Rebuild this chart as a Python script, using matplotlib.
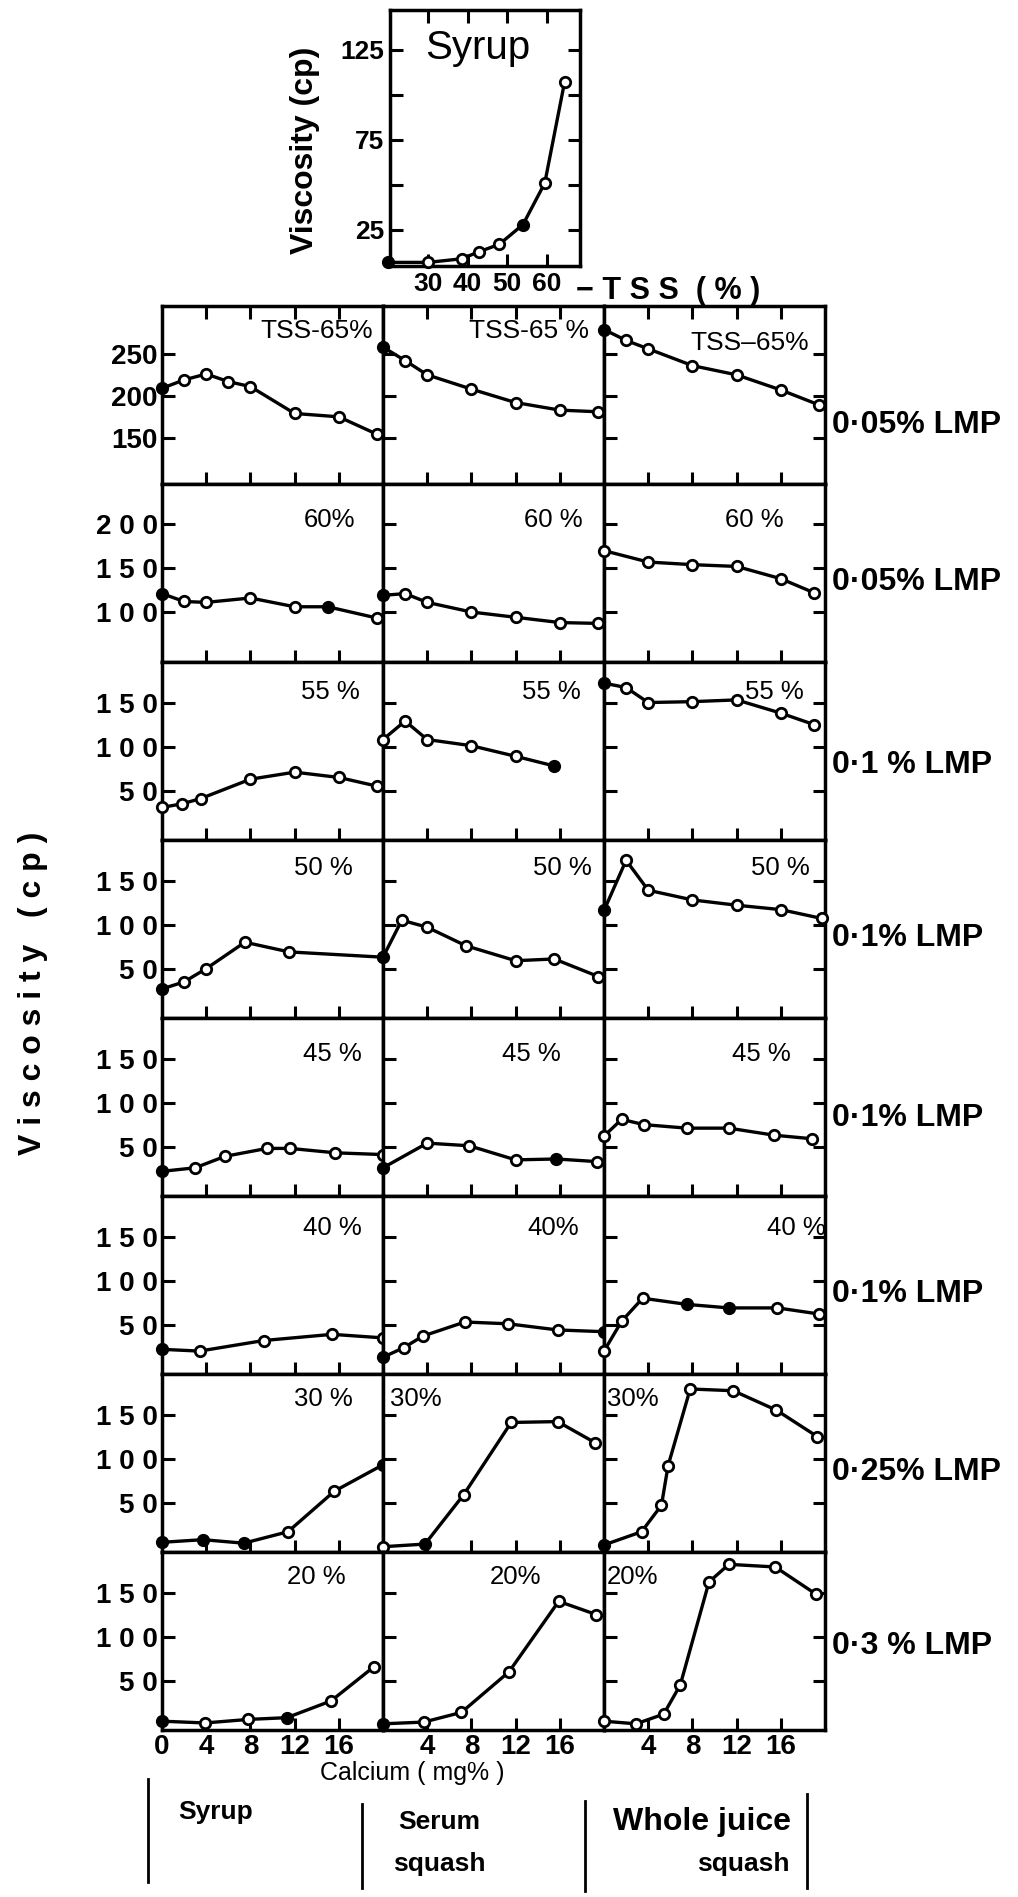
import matplotlib
matplotlib.use('Agg')
import matplotlib.pyplot as plt
from matplotlib.lines import Line2D

plt.rcParams['font.family'] = ['Liberation Sans', 'DejaVu Sans']

# Syrup viscosity against TSS (top inset)
tss = [20, 30, 38.5, 43, 48, 54, 59.5, 64.5]
tss_visc = [7, 7, 9, 13, 17, 28, 51, 107]
tss_filled = [0, 5]

# Calcium (mg%) and viscosity (cp) per product: syrup, serum squash, whole juice squash
ca_65 = [[0, 2, 4, 6, 8, 12, 16, 19.5], [0, 2, 4, 8, 12, 16, 19.5], [0, 2, 4, 8, 12, 16, 19.5]]
cp_65 = [[209, 219, 226, 217, 211, 179, 175, 154], [258, 242, 225, 208, 192, 183, 181],
         [279, 266, 256, 236, 225, 207, 189]]
fill_65 = [[0], [0], [0]]

ca_60 = [[0, 2, 4, 8, 12, 15, 19.5], [0, 2, 4, 8, 12, 16, 19.5], [0, 4, 8, 12, 16, 19]]
cp_60 = [[121, 112, 111, 116, 106, 106, 93], [119, 121, 111, 100, 94, 88, 87],
         [170, 157, 154, 152, 138, 122]]
fill_60 = [[0, 5], [0], []]

ca_55 = [[0, 1.8, 3.5, 8, 12, 16, 19.5], [0, 2, 4, 8, 12, 15.5], [0, 2, 4, 8, 12, 16, 19]]
cp_55 = [[31, 35, 41, 63, 71, 65, 55], [108, 129, 108, 101, 89, 78],
         [172, 167, 150, 151, 153, 138, 125]]
fill_55 = [[], [5], [0]]

ca_50 = [[0, 2, 4, 7.5, 11.5, 20], [0, 1.7, 4, 7.5, 12, 15.5, 19.5], [0, 2, 4, 8, 12, 16, 19.7]]
cp_50 = [[27, 35, 50, 80, 69, 63], [63, 105, 97, 76, 59, 61, 41],
         [116, 173, 139, 128, 122, 117, 107]]
fill_50 = [[0, 5], [0], [0]]

ca_45 = [[0, 3, 5.7, 9.5, 11.6, 15.7, 20], [0, 4, 7.8, 12, 15.7, 19.4], [0, 1.6, 3.6, 7.5, 11.3, 15.4, 18.8]]
cp_45 = [[22, 26, 39, 48, 48, 43, 41], [26, 54, 51, 35, 36, 33],
         [62, 81, 75, 71, 71, 63, 59]]
fill_45 = [[0], [0, 4], []]

ca_40 = [[0, 3.4, 9.2, 15.4, 20], [0, 1.9, 3.6, 7.4, 11.3, 15.8, 20], [0, 1.6, 3.5, 7.5, 11.3, 15.7, 19.5]]
cp_40 = [[22, 20, 32, 39, 35], [13, 24, 37, 53, 51, 44, 42],
         [20, 54, 80, 73, 69, 69, 62]]
fill_40 = [[0], [0, 6], [3, 4]]

ca_30 = [[0, 3.7, 7.4, 11.4, 15.6, 20], [0, 3.8, 7.3, 11.6, 15.8, 19.2],
         [0, 3.4, 5.2, 5.8, 7.8, 11.7, 15.6, 19.3]]
cp_30 = [[5, 8, 4, 17, 63, 93], [0, 3, 59, 141, 142, 118],
         [2, 17, 47, 92, 179, 177, 155, 125]]
fill_30 = [[0, 1, 2, 5], [1], [0]]

ca_20 = [[0, 3.9, 7.8, 11.3, 15.3, 19.2], [0, 3.7, 7.1, 11.4, 15.9, 19.3],
         [0, 2.9, 5.4, 6.9, 9.5, 11.3, 15.5, 19.2]]
cp_20 = [[4, 2, 6, 8, 27, 66], [1, 3, 14, 60, 140, 125],
         [4, 1, 12, 45, 162, 182, 179, 148]]
fill_20 = [[0, 3], [0], []]

tss_tags = [['TSS-65%', 'TSS-65 %', 'TSS\u201365%'], ['60%', '60 %', '60 %'], ['55 %', '55 %', '55 %'],
            ['50 %', '50 %', '50 %'], ['45 %', '45 %', '45 %'], ['40 %', '40%', '40 %'],
            ['30 %', '30%', '30%'], ['20 %', '20%', '20%']]
lmp_labels = ['0\u00b705% LMP', '0\u00b705% LMP', '0\u00b71 % LMP', '0\u00b71% LMP',
              '0\u00b71% LMP', '0\u00b71% LMP', '0\u00b725% LMP', '0\u00b73 % LMP']
products = ['Syrup', 'Serum', 'Whole juice']

rows = [(ca_65, cp_65, fill_65), (ca_60, cp_60, fill_60), (ca_55, cp_55, fill_55),
        (ca_50, cp_50, fill_50), (ca_45, cp_45, fill_45), (ca_40, cp_40, fill_40),
        (ca_30, cp_30, fill_30), (ca_20, cp_20, fill_20)]

# layout (pixels of the 1018x1897 canvas)
W, H = 1018, 1897
GRID_LEFT, GRID_TOP, COL_W, ROW_H = 162, 306, 221, 178
ylims = [(95, 307), (43, 246)] + [(-6, 196)] * 6
yticks = [[150, 200, 250], [100, 150, 200]] + [[50, 100, 150]] * 6
ytick_labels = [['150', '200', '250'], ['1 0 0', '1 5 0', '2 0 0']] + [['5 0', '1 0 0', '1 5 0']] * 6
tag_pos = [[(0.70, 0.86), (0.66, 0.86), (0.66, 0.79)],
           [(0.76, 0.80), (0.77, 0.80), (0.68, 0.80)],
           [(0.76, 0.83), (0.76, 0.83), (0.77, 0.83)],
           [(0.73, 0.84), (0.81, 0.84), (0.80, 0.84)],
           [(0.77, 0.80), (0.67, 0.80), (0.71, 0.80)],
           [(0.77, 0.82), (0.77, 0.82), (0.87, 0.82)],
           [(0.73, 0.86), (0.15, 0.86), (0.13, 0.86)],
           [(0.70, 0.86), (0.60, 0.86), (0.13, 0.86)]]
lmp_y = [0.33, 0.45, 0.42, 0.45, 0.44, 0.45, 0.45, 0.47]

LW = 2.5
fig = plt.figure(figsize=(W / 100, H / 100), dpi=100)


def px_rect(x0, y0, x1, y1):
    return [x0 / W, 1 - y1 / H, (x1 - x0) / W, (y1 - y0) / H]


def draw_series(ax, x, y, filled):
    ax.plot(x, y, '-', color='black', lw=2.4, zorder=3, clip_on=False)
    xo = [v for i, v in enumerate(x) if i not in filled]
    yo = [v for i, v in enumerate(y) if i not in filled]
    xf = [v for i, v in enumerate(x) if i in filled]
    yf = [v for i, v in enumerate(y) if i in filled]
    ax.plot(xo, yo, 'o', ms=7.5, mfc='white', mec='black', mew=2.0, zorder=4, clip_on=False)
    ax.plot(xf, yf, 'o', ms=8.5, mfc='black', mec='black', zorder=4, clip_on=False)


def bold_ticks(ax):
    for lab in ax.get_xticklabels() + ax.get_yticklabels():
        lab.set_fontweight('bold')


# inset: syrup viscosity vs TSS
ax = fig.add_axes(px_rect(390, 10, 580, 266))
draw_series(ax, tss, tss_visc, tss_filled)
ax.set_xlim(20.4, 68.4)
ax.set_ylim(5, 147)
ax.set_xticks([30, 40, 50, 60])
ax.set_yticks([25, 50, 75, 100, 125])
ax.set_yticklabels(['25', '', '75', '', '125'])
ax.tick_params(direction='in', length=9, width=2.2, top=True, right=True, labelsize=19, pad=4)
bold_ticks(ax)
for s in ax.spines.values():
    s.set_linewidth(LW)
ax.text(0.46, 0.85, 'Syrup', transform=ax.transAxes, ha='center', va='center', fontsize=29)
ax.set_ylabel('Viscosity (cp)', fontsize=23, fontweight='bold')
ax.yaxis.set_label_coords(-0.37, 0.45)
fig.text(576 / W, 1 - 291 / H, '\u2212 T S S  ( % )', ha='left', va='center', fontsize=22, fontweight='bold')

# grid of calcium panels
for r, (cas, cps, fills) in enumerate(rows):
    for c in range(3):
        x0 = GRID_LEFT + c * COL_W
        y0 = GRID_TOP + r * ROW_H
        ax = fig.add_axes(px_rect(x0, y0, x0 + COL_W, y0 + ROW_H))
        draw_series(ax, cas[c], cps[c], fills[c])
        ax.set_xlim(0, 20)
        ax.set_ylim(*ylims[r])
        ax.set_yticks(yticks[r])
        if c == 0:
            ax.set_yticklabels(ytick_labels[r])
        else:
            ax.set_yticklabels([])
        if r == 7:
            xt = [0, 4, 8, 12, 16] if c == 0 else [4, 8, 12, 16]
            ax.set_xticks(xt)
            ax.set_xticklabels([str(v) for v in xt])
        else:
            ax.set_xticks([4, 8, 12, 16])
            ax.set_xticklabels([])
        ax.tick_params(direction='in', length=9, width=2.2, labelsize=20, pad=3,
                       top=(r == 0), right=(c == 2))
        bold_ticks(ax)
        for s in ax.spines.values():
            s.set_linewidth(LW)
        tx, ty = tag_pos[r][c]
        ax.text(tx, ty, tss_tags[r][c], transform=ax.transAxes, ha='center', va='center',
                fontsize=19 if r == 0 else 18.5)
        if c == 2:
            ax.text(1.03, lmp_y[r], lmp_labels[r], transform=ax.transAxes, ha='left', va='center',
                    fontsize=23, fontweight='bold')

fig.text(33 / W, 1 - 993 / H, 'V i s c o s i t y   ( c p )', rotation=90, ha='center', va='center',
         fontsize=23, fontweight='bold')
fig.text(412 / W, 1 - 1773 / H, 'Calcium ( mg% )', ha='center', va='center', fontsize=18)

# product legend under the columns
for bx, (yb0, yb1) in zip([148, 362, 585, 807], [(1779, 1882), (1804, 1888), (1801, 1891), (1794, 1888)]):
    fig.add_artist(Line2D([bx / W, bx / W], [1 - yb0 / H, 1 - yb1 / H], color='black', lw=2))
fig.text(216 / W, 1 - 1812 / H, products[0], ha='center', va='center', fontsize=19, fontweight='bold')
fig.text(439 / W, 1 - 1822 / H, products[1], ha='center', va='center', fontsize=19, fontweight='bold')
fig.text(439 / W, 1 - 1864 / H, 'squash', ha='center', va='center', fontsize=19, fontweight='bold')
fig.text(702 / W, 1 - 1822 / H, products[2], ha='center', va='center', fontsize=23, fontweight='bold')
fig.text(743 / W, 1 - 1864 / H, 'squash', ha='center', va='center', fontsize=19, fontweight='bold')

fig.savefig('out.png', dpi=100, facecolor='white')
